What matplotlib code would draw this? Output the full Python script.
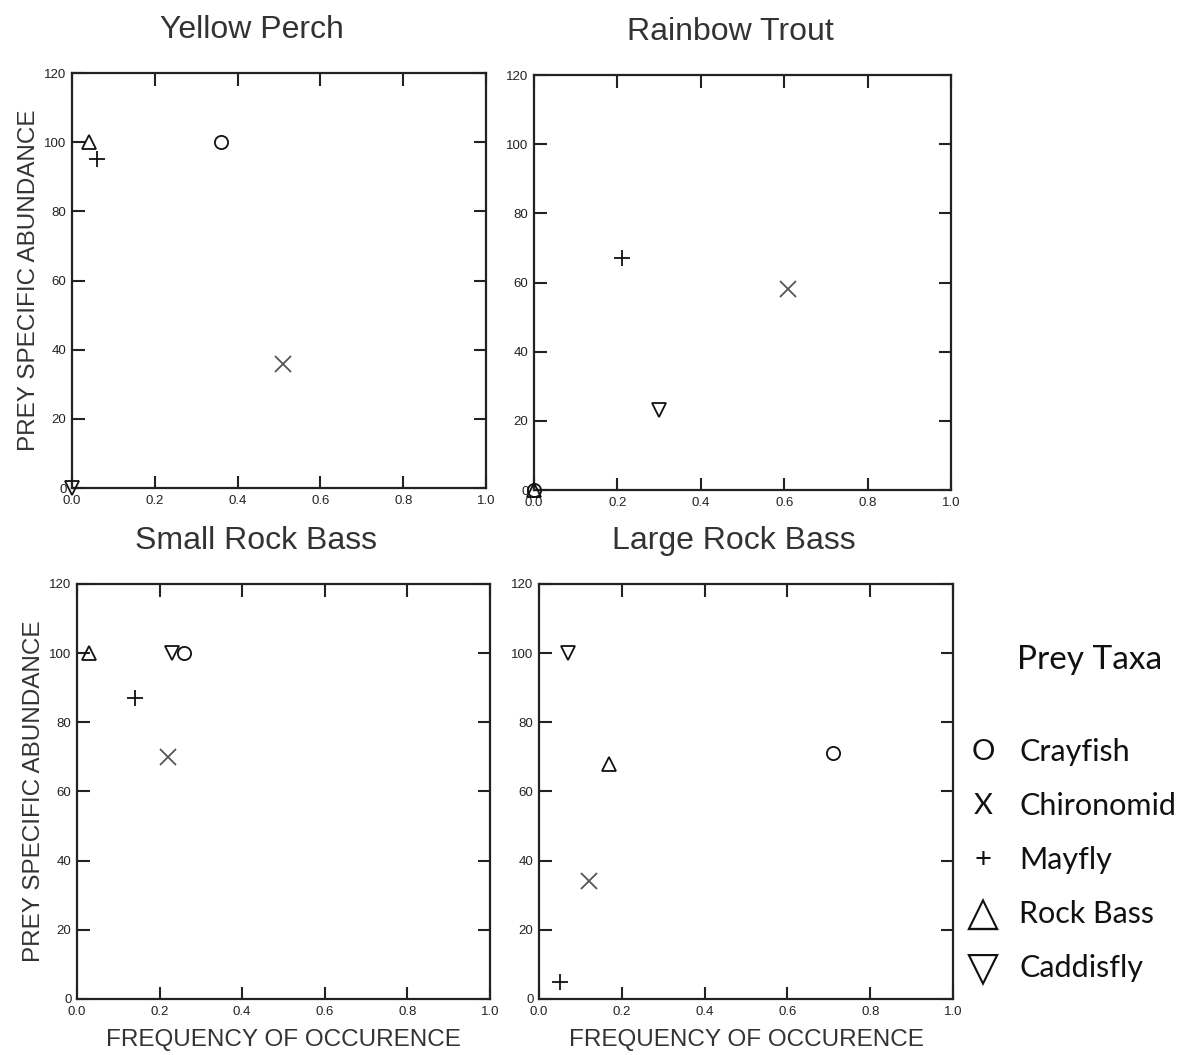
import numpy as np
import matplotlib
matplotlib.use("Agg")
import matplotlib.pyplot as plt

plt.rcParams['font.family'] = ['Liberation Sans', 'DejaVu Sans']

# prey taxa, in drawing order
taxa = ['Crayfish', 'Chironomid', 'Mayfly', 'Rock Bass', 'Caddisfly']
marks = ['o', 'x', '+', '^', 'v']
legend_glyphs = ['O', 'X', '+', '\u25b3', '\u25bd']

panels = ['Yellow Perch', 'Rainbow Trout', 'Small Rock Bass', 'Large Rock Bass']

# frequency of occurence per panel (same order as taxa)
freq_perch = [0.36, 0.51, 0.06, 0.04, 0.0]
freq_trout = [0.0, 0.61, 0.21, 0.0, 0.30]
freq_small = [0.26, 0.22, 0.14, 0.03, 0.23]
freq_large = [0.71, 0.12, 0.05, 0.17, 0.07]

# prey specific abundance per panel
abund_perch = [100, 36, 95, 100, 0]
abund_trout = [0, 58, 67, 0, 23]
abund_small = [100, 70, 87, 100, 100]
abund_large = [71, 34, 5, 68, 100]

freqs = [freq_perch, freq_trout, freq_small, freq_large]
abunds = [abund_perch, abund_trout, abund_small, abund_large]

boxes = [
    [0.0609, 0.5374, 0.3503, 0.3934],
    [0.4518, 0.5355, 0.3528, 0.3934],
    [0.0651, 0.0531, 0.3494, 0.3934],
    [0.4560, 0.0531, 0.3503, 0.3934],
]
# titles sit a little left of the panel centre
title_x = [0.435, 0.472, 0.433, 0.471]

fig = plt.figure(figsize=(11.82, 10.55), dpi=100)

for i, name in enumerate(panels):
    ax = fig.add_axes(boxes[i])
    for j in range(len(taxa)):
        size = 10.5 if marks[j] in ('^', 'v') else (9.5 if marks[j] == 'o' else 12)
        col = '#555555' if marks[j] == 'x' else '#111111'
        ax.plot(freqs[i][j], abunds[i][j], marker=marks[j], ms=size,
                mfc='none', mec=col, mew=1.3, ls='none', clip_on=False, zorder=5)
    ax.set_xlim(0, 1.0)
    ax.set_ylim(0, 120)
    ax.set_xticks(np.arange(0, 1.01, 0.2))
    ax.set_yticks(np.arange(0, 121, 20))
    ax.set_xticklabels(['%.1f' % v for v in np.arange(0, 1.01, 0.2)])
    ax.tick_params(direction='in', top=True, right=True, labelsize=9.5,
                   width=1.5, length=9, colors='#222222')
    ax.tick_params(axis='x', pad=5)
    ax.tick_params(axis='y', pad=4)
    for s in ax.spines.values():
        s.set_linewidth(1.6)
        s.set_color('#222222')
    ax.text(title_x[i], 1.104, name, transform=ax.transAxes, fontsize=23,
            ha='center', va='center', color='#333333')
    if i % 2 == 0:
        ax.set_ylabel('PREY SPECIFIC ABUNDANCE', fontsize=17.5, color='#333333', labelpad=3)
    if i >= 2:
        ax.set_xlabel('FREQUENCY OF OCCURENCE', fontsize=17.5, color='#333333', labelpad=8)

# key for the prey symbols
key_font = ['Lato', 'DejaVu Sans']
fig.text(1090 / 1182, 1 - 660 / 1055, 'Prey Taxa', fontsize=24, family=key_font,
         ha='center', va='center', color='#111111')
rows = [752, 806, 860, 914, 968]
for j in range(len(taxa)):
    y = 1 - rows[j] / 1055
    glyph_size = 30 if j >= 3 else 21
    fig.text(983 / 1182, y, legend_glyphs[j], fontsize=glyph_size,
             family=['DejaVu Sans'] if j >= 3 else key_font,
             ha='center', va='center', color='#111111')
    fig.text(1019 / 1182, y, taxa[j], fontsize=22, family=key_font,
             ha='left', va='center', color='#111111')

fig.savefig('out.png', dpi=100, facecolor='white')
